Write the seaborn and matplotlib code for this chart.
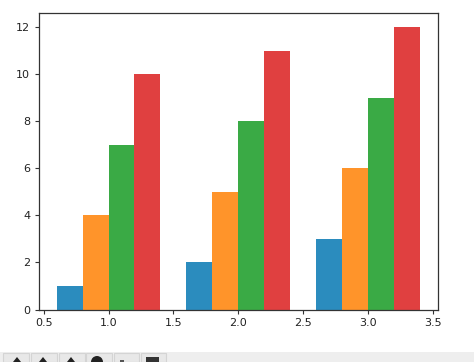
import matplotlib
matplotlib.use("Agg")
import matplotlib.pyplot as plt
import pandas as pd
import seaborn as sns
from matplotlib.patches import Rectangle, Ellipse, Polygon

groups=[1,2,3]
series_a=[1,2,3]
series_b=[4,5,6]
series_c=[7,8,9]
series_d=[10,11,12]
bar_colors=["#2b8cbe","#ff942a","#3aaa45","#e04040"]

df=pd.DataFrame({"x":groups,"a":series_a,"b":series_b,"c":series_c,"d":series_d})
df=df.melt(id_vars="x",var_name="series",value_name="value")

sns.set_style("ticks",{"axes.edgecolor":"#333333"})
plt.rcParams["font.family"]=["DejaVu Sans"]

fig=plt.figure(figsize=(4.74,3.62),dpi=100)
ax=fig.add_axes([38.5/474,1-309.5/362,399.5/474,296.5/362])

sns.barplot(
    data=df,x="x",y="value",hue="series",
    palette=bar_colors,native_scale=True,
    width=0.8,gap=0,saturation=1,linewidth=0,
    legend=False,ax=ax
)
ax.set_xlim(0.46,3.54)
ax.set_ylim(0,12.6)
ax.set_xticks([0.5,1.0,1.5,2.0,2.5,3.0,3.5])
ax.set_yticks(range(0,13,2))
ax.set_xlabel("")
ax.set_ylabel("")
ax.tick_params(labelsize=8,length=3,width=0.8,color="#333333",labelcolor="#222222",pad=3)
for s in ax.spines.values():
    s.set_visible(True)
    s.set_linewidth(0.9)

# toolbar strip at the bottom of the window, in pixels from the top left
def px(x,y):
    return (x/474,1-y/362)

def add_shape(shape):
    shape.set_transform(fig.transFigure)
    fig.patches.append(shape)

add_shape(Rectangle(px(0,362),1,10/362,facecolor="#eeeeee",edgecolor="none"))
for left,right in [(3,29),(31,57),(59,85),(86,112),(114,139),(141,166)]:
    add_shape(Rectangle(px(left,362),(right-left)/474,9/362,facecolor="#e8e8e8",edgecolor="#d4d4d4",linewidth=0.8))
for cx in [17,43,71]:
    add_shape(Polygon([px(cx-4,362),px(cx,357),px(cx+4,362)],facecolor="#222222",edgecolor="none"))
add_shape(Ellipse(px(97,362),12/474,12/362,facecolor="#222222",edgecolor="none"))
add_shape(Rectangle(px(120,362),4/474,2/362,facecolor="#555555",edgecolor="none"))
add_shape(Rectangle(px(146,362),13/474,5/362,facecolor="#333333",edgecolor="none"))

fig.savefig("out.png",dpi=100)
